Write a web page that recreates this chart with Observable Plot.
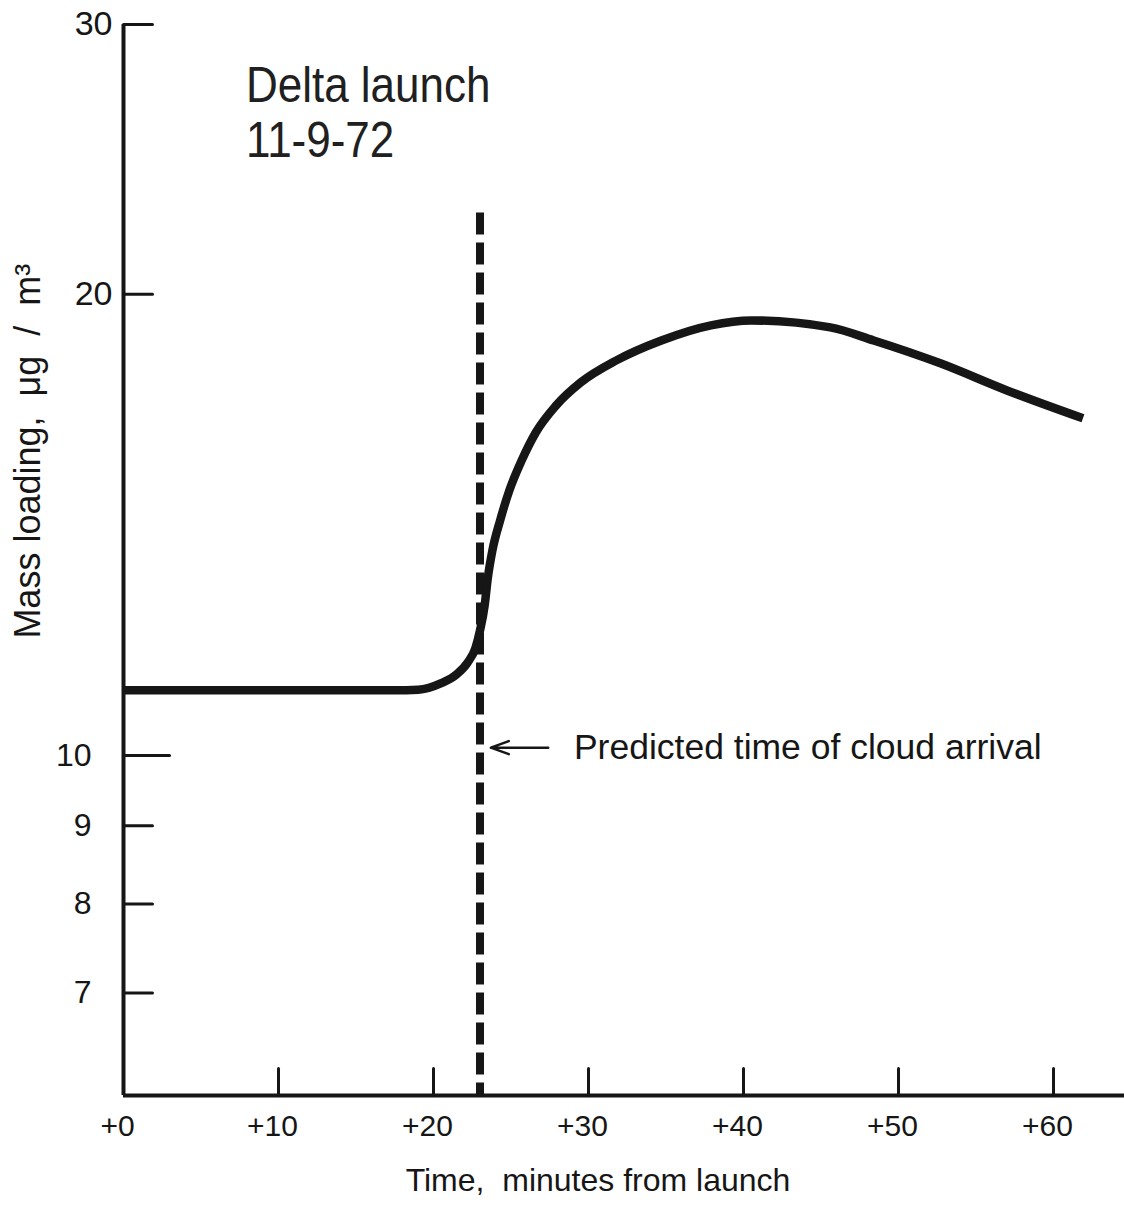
<!DOCTYPE html>
<html>
<head>
<meta charset="utf-8">
<script src="https://cdn.jsdelivr.net/npm/d3@7"></script>
<script src="https://cdn.jsdelivr.net/npm/@observablehq/plot@0.6"></script>
<style>
  html, body { margin: 0; padding: 0; background: #fff; }
  #chart svg { display: block; }
</style>
</head>
<body>
<div id="chart"></div>
<script>
// Mass loading measured after the Delta launch (minutes from launch, µg/m³)
const minutes     = [0, 5, 10, 15, 17.5, 19.0, 20.5, 21.5, 22.2, 22.7, 23.0, 23.3, 23.5, 23.8, 24.3, 24.9, 25.7, 26.6, 27.9, 29.5, 31.8, 34.7, 37.9, 40.5, 45.6, 48.4, 52.7, 57.0, 61.9];
const massLoading = [11.03, 11.03, 11.03, 11.03, 11.03, 11.04, 11.15, 11.30, 11.50, 11.75, 12.07, 12.53, 13.05, 13.61, 14.24, 14.90, 15.59, 16.25, 16.92, 17.52, 18.11, 18.66, 19.09, 19.23, 19.03, 18.66, 18.03, 17.31, 16.60];

// Axis ticks
const xTickMinutes = [10, 20, 30, 40, 50, 60];
const xTickLabels  = [0, 10, 20, 30, 40, 50, 60];
const yTicksUpper  = [20, 30];
const yTicksLower  = [7, 8, 9];
const yTickLong    = [10];

// Predicted cloud arrival marker and its annotation
const arrivalMinute = [23.0];
const arrivalTop    = 22.6;
const arrowFrom     = [27.4, 10.12];
const arrowTo       = [23.7, 10.12];
const arrivalNote   = ["Predicted time of cloud arrival"];
const titleLines    = ["Delta launch\n11-9-72"];
const titleAt       = [7.9, 26.3];
const xAxisTitle    = ["Time,  minutes from launch"];
const yAxisTitle    = ["Mass loading,  μg  /  m³"];
const yAxisTitleAt  = [15.8];

const ink = "#161616";
const font = "Liberation Sans, Arial, sans-serif";

const series = minutes.map((m, i) => ({minute: m, value: massLoading[i]}));

// Short straight stroke used for the inward tick marks
const stem = { draw(context, l) { context.moveTo(0, 0); context.lineTo(0, -l); } };

const chart = Plot.plot({
  width: 1124,
  height: 1211,
  marginLeft: 123,
  marginRight: 0,
  marginTop: 24,
  marginBottom: 116,
  style: { fontFamily: font, background: "#fff", color: ink },
  x: { domain: [0, 64.58], axis: null },
  y: { type: "log", domain: [6, 30], axis: null },
  marks: [
    // axis lines
    Plot.ruleX([0], { stroke: ink, strokeWidth: 4 }),
    Plot.ruleY([6], { stroke: ink, strokeWidth: 4 }),

    // inward ticks
    Plot.vectorX(xTickMinutes, { x: d => d, frameAnchor: "bottom", length: 27, anchor: "start", shape: stem, stroke: ink, strokeWidth: 3 }),
    Plot.vectorY(yTicksUpper.concat(yTicksLower), { y: d => d, frameAnchor: "left", length: 29, rotate: 90, anchor: "start", shape: stem, stroke: ink, strokeWidth: 3 }),
    Plot.vectorY(yTickLong, { y: d => d, frameAnchor: "left", length: 46, rotate: 90, anchor: "start", shape: stem, stroke: ink, strokeWidth: 3 }),

    // tick labels
    Plot.text(xTickLabels, { x: d => d, frameAnchor: "bottom", dy: 40, dx: -6, text: d => "+" + d, fontSize: 30, fill: ink }),
    Plot.text(yTicksUpper, { y: d => d, frameAnchor: "left", dx: -11, textAnchor: "end", text: d => String(d), fontSize: 34, fill: ink }),
    Plot.text(yTicksLower.concat(yTickLong), { y: d => d, frameAnchor: "left", dx: -32, textAnchor: "end", text: d => String(d), fontSize: 32, fill: ink }),

    // axis titles
    Plot.text(xAxisTitle, { frameAnchor: "bottom", dy: 95, dx: -26, text: d => d, fontSize: 32, fill: ink }),
    Plot.text(yAxisTitle, { y: () => yAxisTitleAt[0], frameAnchor: "left", textAnchor: "middle", dx: -95, rotate: -90, text: d => d, fontSize: 36, fill: ink }),

    // predicted arrival (dashed) and measured mass loading
    Plot.ruleX(arrivalMinute, { x: d => d, y1: arrivalTop, y2: 6, stroke: ink, strokeWidth: 8, strokeDasharray: "22,8" }),
    Plot.line(series, { x: "minute", y: "value", curve: "monotone-x", stroke: ink, strokeWidth: 8.5, strokeLinecap: "butt", strokeLinejoin: "round" }),

    // annotation
    Plot.arrow([0], { x1: () => arrowFrom[0], y1: () => arrowFrom[1], x2: () => arrowTo[0], y2: () => arrowTo[1], stroke: ink, strokeWidth: 2.5, headLength: 14, headAngle: 40 }),
    Plot.text(arrivalNote, { x: 29.06, y: 10.12, textAnchor: "start", text: d => d, fontSize: 35.5, fill: ink }),
    Plot.text(titleLines, { x: titleAt[0], y: titleAt[1], textAnchor: "start", lineHeight: 1.1, text: d => d, fontSize: 50, fill: "#202020" })
  ]
});

// The title lettering is narrower than the sans face: compress it horizontally
d3.select(chart).selectAll("text")
  .filter(function () { return this.textContent.startsWith("Delta"); })
  .attr("transform", function () { return (this.getAttribute("transform") || "") + " scale(0.88,1)"; });

document.getElementById("chart").appendChild(chart);
</script>
</body>
</html>
